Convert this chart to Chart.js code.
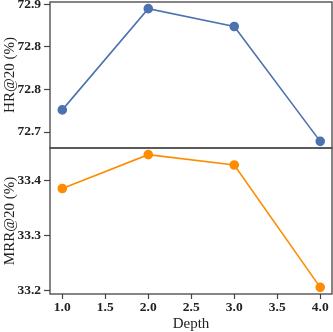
<!DOCTYPE html>
<html>
<head>
<meta charset="utf-8">
<script src="https://cdn.jsdelivr.net/npm/chart.js@4"></script>
<style>
  body { margin: 0; background: #fff; }
  #wrap { width: 333px; height: 332px; position: relative; }
</style>
</head>
<body>
<div id="wrap"><canvas id="depthChart"></canvas></div>
<script>
// Derinlik değerleri ve metrikler
const depths = [1, 2, 3, 4];
const hrValues = [72.751, 72.870, 72.849, 72.714];
const mrrValues = [33.386, 33.448, 33.429, 33.205];

const xTicks = [1.0, 1.5, 2.0, 2.5, 3.0, 3.5, 4.0];
const hrTicks = [72.725, 72.775, 72.825, 72.875];
const hrTickLabels = ['72.7', '72.8', '72.8', '72.9'];
const mrrTicks = [33.2, 33.3, 33.4];
const mrrTickLabels = ['33.2', '33.3', '33.4'];

const serif = "'Liberation Serif', 'Times New Roman', serif";
const axisColor = '#444';

// matplotlib gibi %5 kenar boşluğu
function padRange(values) {
    const lo = Math.min(...values), hi = Math.max(...values);
    const m = (hi - lo) * 0.05;
    return { min: lo - m, max: hi + m };
}
const hrRange = padRange(hrValues);
const mrrRange = padRange(mrrValues);

function yScale(range, ticks, labels, title, fixedWidth) {
    return {
        type: 'linear',
        position: 'left',
        stack: 'panels',
        stackWeight: 1,
        min: range.min,
        max: range.max,
        afterBuildTicks: (scale) => {
            scale.ticks = ticks.map(v => ({ value: v }));
        },
        afterFit: (scale) => {
            scale.width = fixedWidth;
            scale.paddingTop = 0;
            scale.paddingBottom = 0;
        },
        ticks: {
            color: '#222',
            padding: 3,
            font: { family: serif, size: 13.5, weight: 'bold' },
            callback: function(value, index) { return labels[index]; }
        },
        grid: { drawOnChartArea: false, tickLength: 6, tickColor: axisColor, tickWidth: 1.2 },
        border: { display: false },
        title: {
            display: true,
            text: title,
            color: '#222',
            padding: { top: 1, bottom: 0 },
            font: { family: serif, size: 15, weight: 'normal', lineHeight: 1.2 }
        }
    };
}

// Panel çerçeveleri
const framePlugin = {
    id: 'frames',
    afterDraw(chart) {
        const ctx = chart.ctx;
        const area = chart.chartArea;
        ctx.save();
        ctx.strokeStyle = axisColor;
        ctx.lineWidth = 1.3;
        ['yHr', 'yMrr'].forEach(id => {
            const s = chart.scales[id];
            ctx.strokeRect(area.left, s.top, area.right - area.left, s.bottom - s.top);
        });
        ctx.restore();
    }
};

const ctx = document.getElementById('depthChart').getContext('2d');
const depthChart = new Chart(ctx, {
    type: 'line',
    data: {
        datasets: [{
            label: 'HR@20',
            data: depths.map((d, i) => ({ x: d, y: hrValues[i] })),
            yAxisID: 'yHr',
            borderColor: '#4c72b0',
            backgroundColor: '#4c72b0',
            borderWidth: 1.6,
            pointRadius: 4,
            pointHoverRadius: 4,
            tension: 0
        }, {
            label: 'MRR@20',
            data: depths.map((d, i) => ({ x: d, y: mrrValues[i] })),
            yAxisID: 'yMrr',
            borderColor: '#ff8c00',
            backgroundColor: '#ff8c00',
            borderWidth: 1.6,
            pointRadius: 4,
            pointHoverRadius: 4,
            tension: 0
        }]
    },
    options: {
        responsive: true,
        maintainAspectRatio: false,
        animation: false,
        layout: { autoPadding: false, padding: { top: 2, right: 1, left: 0, bottom: 0 } },
        plugins: {
            legend: { display: false },
            tooltip: { enabled: false }
        },
        scales: {
            x: {
                type: 'linear',
                min: 0.857,
                max: 4.137,
                afterBuildTicks: (scale) => {
                    scale.ticks = xTicks.map(v => ({ value: v }));
                },
                afterFit: (scale) => {
                    scale.height = 38;
                    scale.paddingLeft = 0;
                    scale.paddingRight = 0;
                },
                ticks: {
                    color: '#222',
                    padding: 0,
                    maxRotation: 0,
                    font: { family: serif, size: 13.5, weight: 'bold' },
                    callback: (value) => value.toFixed(1)
                },
                grid: { drawOnChartArea: false, tickLength: 5, tickColor: axisColor, tickWidth: 1.2 },
                border: { display: false },
                title: {
                    display: true,
                    text: 'Depth',
                    color: '#222',
                    padding: { top: 0, bottom: 0 },
                    font: { family: serif, size: 15, weight: 'normal', lineHeight: 1.0 }
                }
            },
            yMrr: yScale(mrrRange, mrrTicks, mrrTickLabels, 'MRR@20 (%)', 50),
            yHr: yScale(hrRange, hrTicks, hrTickLabels, 'HR@20 (%)', 50)
        }
    },
    plugins: [framePlugin]
});
</script>
</body>
</html>
